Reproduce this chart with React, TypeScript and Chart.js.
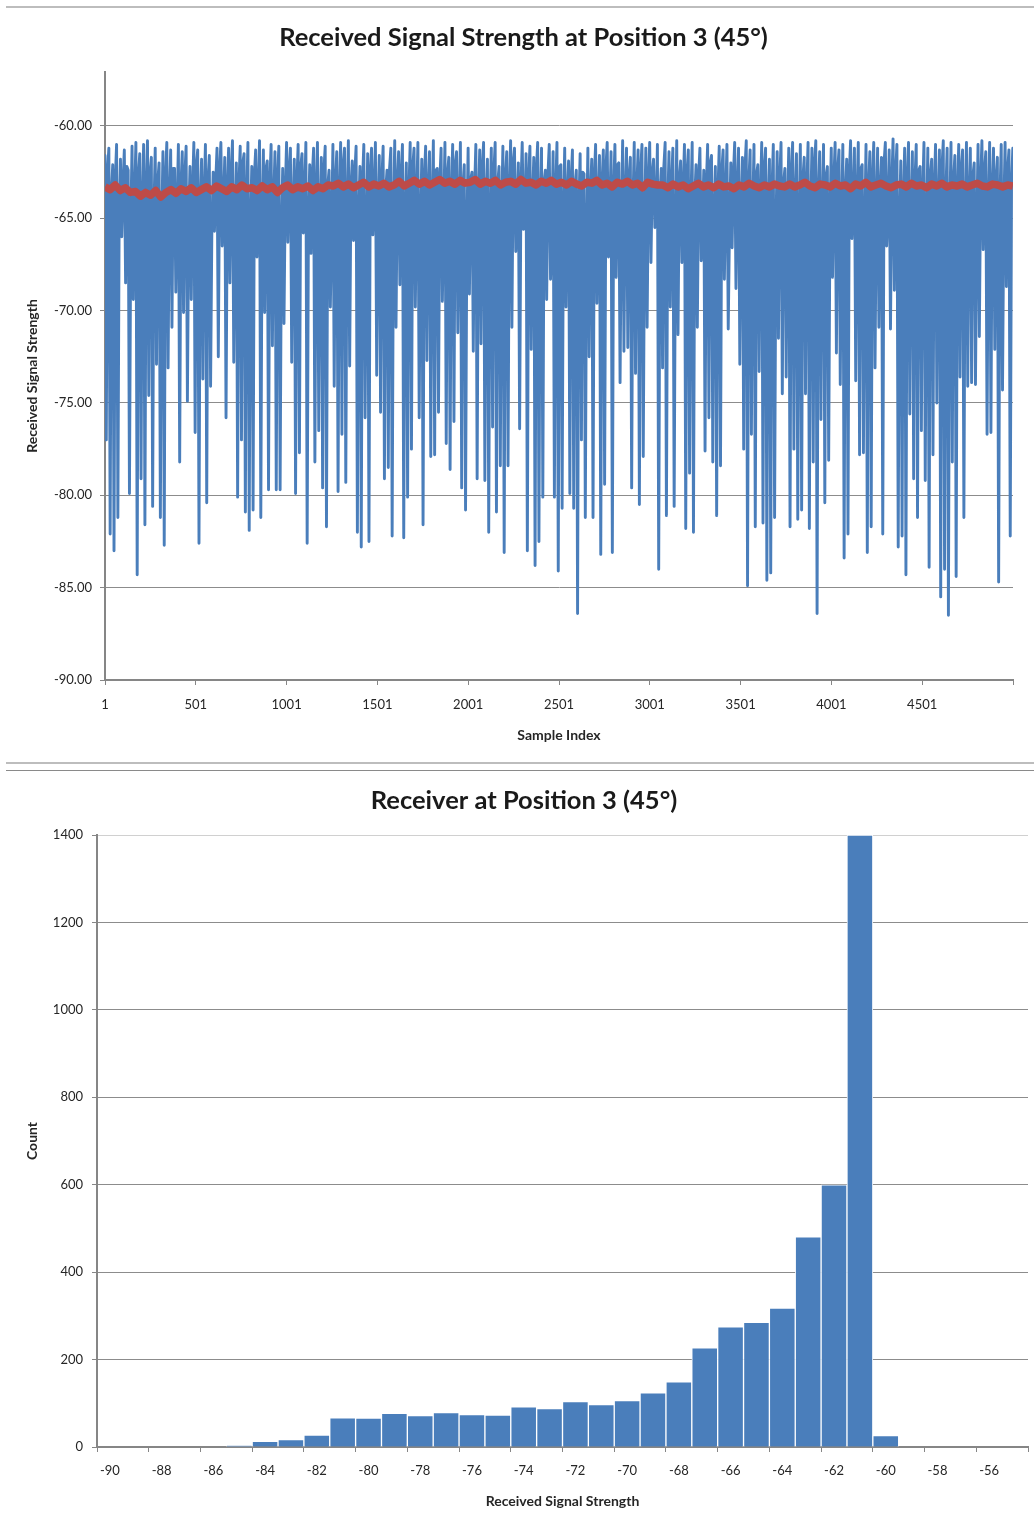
import React, { useEffect, useRef } from 'react';
import { Chart, registerables } from 'chart.js';

Chart.register(...registerables);

// ---------- Top chart: received signal strength over samples ----------
const FIRST_SAMPLE = 1;
const LAST_SAMPLE = 5000;
const sampleAxisTicks = [1, 501, 1001, 1501, 2001, 2501, 3001, 3501, 4001, 4501, 5001];
const rssAxisTicks = [-90, -85, -80, -75, -70, -65, -60];

// local maxima of the raw RSS trace (left to right)
const rssPeaks = [
  -61.6, -61.2, -62.1, -61.0, -61.8, -61.3, -62.4, -61.1, -60.9, -61.5,
  -61.0, -60.8, -61.7, -61.2, -62.0, -61.4, -60.9, -61.3, -62.3, -61.0,
  -61.4, -61.1, -62.2, -60.9, -61.3, -61.8, -61.0, -61.6, -62.5, -61.2,
  -60.9, -61.7, -61.2, -60.8, -62.0, -61.1, -61.5, -60.9, -62.2, -61.3,
  -60.8, -61.3, -61.9, -61.0, -61.4, -61.1, -62.3, -60.9, -61.2, -61.8,
  -61.0, -61.5, -60.9, -62.1, -61.2, -60.9, -61.7, -61.1, -62.4, -61.0,
  -61.4, -60.9, -61.2, -60.8, -61.9, -61.1, -62.2, -61.0, -61.5, -61.2,
  -60.9, -61.6, -61.1, -62.4, -61.2, -60.8, -61.4, -61.0, -62.0, -60.9,
  -61.2, -60.9, -61.8, -61.1, -61.4, -60.8, -62.3, -61.2, -60.9, -61.7,
  -61.0, -61.4, -60.9, -62.1, -61.2, -62.5, -61.0, -61.3, -60.9, -61.8,
  -61.2, -60.9, -62.2, -61.1, -61.4, -60.8, -61.2, -62.0, -60.9, -61.5,
  -61.1, -61.7, -60.9, -61.2, -62.4, -61.0, -61.4, -60.9, -62.1, -61.2,
  -61.9, -61.3, -62.4, -61.5, -62.6, -61.2, -61.8, -61.0, -61.6, -61.3,
  -60.9, -61.4, -61.0, -62.0, -60.8, -61.2, -61.7, -60.9, -61.3, -61.0,
  -61.2, -60.9, -61.8, -61.0, -62.3, -60.9, -61.4, -61.2, -60.8, -61.9,
  -61.0, -61.3, -60.9, -62.1, -61.2, -62.4, -61.0, -61.6, -62.2, -61.1,
  -61.3, -61.0, -62.0, -60.9, -61.2, -61.7, -60.8, -61.3, -61.0, -62.1,
  -60.9, -61.2, -61.8, -61.0, -61.4, -60.9, -62.3, -61.2, -60.9, -61.5,
  -61.0, -61.7, -60.9, -61.2, -60.8, -61.4, -61.0, -62.2, -61.2, -60.9,
  -61.3, -61.0, -61.8, -60.8, -61.2, -60.9, -62.1, -61.0, -61.4, -60.9,
  -61.2, -61.7, -60.9, -61.3, -60.7, -61.0, -61.9, -61.2, -60.9, -61.4,
  -61.0, -62.2, -60.9, -61.2, -61.8, -61.0, -61.3, -60.8, -61.2, -60.9,
  -61.6, -61.0, -61.3, -60.9, -61.2, -62.0, -61.0, -60.8, -61.4, -60.9,
  -61.2, -61.7, -61.0, -60.9, -61.3, -61.2,
];

// local minima (fades) of the raw RSS trace, left to right
const rssTroughs = [
  // samples 1 - 1240
  -77.0, -82.1, -83.0, -81.2, -66.0, -68.5, -79.9, -69.4, -84.3, -79.1,
  -81.6, -74.6, -80.6, -72.9, -81.2, -82.7, -73.1, -70.9, -69.0, -78.2,
  -70.1, -74.9, -69.4, -76.6, -82.6, -73.7, -80.4, -74.1, -65.7, -72.5,
  -66.5, -75.8, -68.5, -72.8, -80.1, -77.0, -80.9, -81.9, -80.8, -67.1,
  -81.2, -70.1, -79.7, -71.9, -79.7, -79.7, -70.7, -66.3, -72.8, -79.9,
  -77.7, -65.8, -82.6, -66.9, -78.2, -76.5, -79.6,
  // samples 1240 - 2440
  -81.7, -69.8, -74.1, -79.8, -76.7, -79.3, -73.0, -66.2, -82.0, -82.8,
  -75.8, -82.5, -65.9, -73.5, -75.5, -79.1, -78.5, -82.2, -70.9, -68.6,
  -82.3, -80.1, -77.5, -69.8, -75.8, -81.6, -72.7, -77.9, -77.8, -75.5,
  -69.5, -77.2, -78.6, -76.0, -71.2, -79.6, -80.8, -69.1, -72.2, -79.1,
  -71.8, -79.2, -82.0, -76.3, -80.9, -78.4, -83.1, -78.4, -70.9, -66.8,
  -76.4, -65.6, -83.0, -72.1, -83.8, -82.5, -80.1, -69.4, -68.3,
  // samples 2440 - 3650
  -80.1, -84.1, -80.7, -69.8, -79.9, -80.7, -86.4, -77.0, -81.2, -72.5,
  -81.2, -69.6, -83.2, -79.4, -67.1, -83.1, -68.2, -73.9, -72.2, -72.0,
  -79.6, -73.4, -80.5, -77.9, -70.9, -67.4, -65.5, -84.0, -73.1, -81.1,
  -69.8, -80.6, -71.3, -67.4, -81.8, -78.8, -82.0, -70.9, -67.3, -77.6,
  -75.8, -78.2, -81.1, -78.4, -68.3, -71.0, -66.6, -68.8, -72.9, -77.5,
  -84.9, -76.7, -81.7, -73.3, -81.5, -84.6, -84.2, -81.2,
  // samples 3650 - 5000
  -71.5, -74.5, -73.6, -81.7, -77.5, -81.3, -80.8, -74.5, -81.8, -78.2,
  -86.4, -75.9, -80.4, -78.1, -68.2, -72.3, -74.0, -83.4, -82.1, -66.1,
  -73.8, -77.8, -77.7, -83.1, -81.7, -73.1, -70.9, -82.1, -66.5, -71.0,
  -68.9, -82.8, -82.2, -84.3, -75.6, -79.1, -81.2, -76.5, -79.2, -83.9,
  -77.8, -75.0, -85.5, -84.0, -86.5, -78.2, -84.4, -73.6, -81.2, -74.1,
  -73.9, -74.0, -71.4, -66.7, -76.7, -76.6, -72.1, -84.7, -74.3, -68.7,
  -82.2,
];

// recovery level right after each fade, before the next peak
const rssShoulders = [
  -62.4, -63.6, -62.9, -64.8, -63.1, -62.2, -65.3, -63.8, -62.6, -64.1,
  -63.3, -62.5, -64.6, -63.0, -65.7, -62.8, -63.9, -62.3, -64.4, -63.2,
  -62.7, -65.1, -63.5, -62.1, -64.0, -63.7, -62.9, -65.5, -63.0, -62.4,
  -64.3, -63.4, -62.6, -64.9, -63.2, -62.0, -63.8, -65.2, -62.7, -63.5,
  -64.7, -62.3, -63.1, -64.0, -62.8, -65.8, -63.6, -62.5, -64.2, -63.0,
  -62.2, -63.9, -65.0, -62.7, -63.4, -64.5, -62.4, -63.2, -65.4, -62.9,
  -63.7, -62.1, -64.1, -63.3, -62.6, -64.8, -63.0, -65.6, -62.5, -63.8,
  -64.4, -62.9, -63.5, -62.3, -65.1, -63.1, -62.7, -64.6, -63.6, -62.2,
  -63.9, -65.3, -62.8, -63.4, -64.2, -62.4, -63.0, -64.9, -62.6, -63.7,
  -62.1, -64.3, -63.2, -65.7, -62.9, -63.5, -64.0, -62.3, -63.8, -65.0,
  -62.5, -63.1, -64.7, -62.7, -63.6, -62.0, -64.5, -63.3, -65.2, -62.8,
  -63.9, -62.4, -64.1, -63.0, -62.6, -65.5, -63.4, -62.2, -64.8, -63.7,
  -62.9, -63.2, -64.4, -62.5, -65.9, -63.6, -62.8, -64.0, -63.1, -62.3,
  -64.6, -63.5, -62.1, -65.0, -63.8, -62.7, -64.2, -63.3, -62.4, -65.4,
  -63.0, -62.6, -64.9, -63.7, -62.2, -64.3, -63.1, -65.6, -62.9, -63.4,
  -62.5, -64.1, -63.9, -62.8, -65.1, -63.2, -62.0, -64.7, -63.6, -62.4,
  -63.8, -65.3, -62.7, -63.5, -64.4, -62.3, -63.0, -64.8, -62.6, -63.9,
  -62.2, -64.0, -63.4, -65.8, -62.9, -63.1, -64.5, -62.5, -63.7, -65.2,
  -62.8, -63.3, -64.6, -62.1, -63.6, -64.2, -62.7, -65.0, -63.0, -62.4,
  -64.9, -63.5, -62.6, -64.3, -63.8, -62.3, -65.5, -63.2, -62.9, -64.1,
  -63.4, -62.0, -64.7, -63.1, -62.5, -65.1, -63.9, -62.8, -64.4, -63.0,
  -62.4, -63.7, -65.4, -62.6, -63.3, -64.0, -62.2, -63.6, -64.8, -62.9,
  -63.5, -62.3, -64.5, -63.8, -62.7, -65.3, -63.1, -62.5, -64.2, -63.4,
  -62.8, -63.9, -64.6, -62.4, -63.2,
];

// running average (red trace), evenly spread over the samples
const runningAverage = [
  -63.3, -63.45, -63.2, -63.5, -63.35, -63.6,
  -63.55, -63.8, -63.6, -63.75, -63.5, -63.85, -63.6,
  -63.45, -63.65, -63.4, -63.55, -63.35, -63.6, -63.45,
  -63.3, -63.5, -63.25, -63.4, -63.55, -63.3, -63.45, -63.2, -63.4, -63.35,
  -63.5, -63.25, -63.45, -63.3, -63.6, -63.35, -63.2, -63.45, -63.3, -63.4,
  -63.25, -63.5, -63.3, -63.4, -63.2,
  -63.25, -63.1, -63.3, -63.15, -63.35, -63.2, -63.05, -63.3, -63.15, -63.25,
  -63.1, -63.3, -63.2, -63.0, -63.25,
  -63.1, -62.95, -63.15, -63.0, -63.2, -63.05, -62.9, -63.1, -63.0, -63.15,
  -62.95, -63.1, -63.05, -62.9, -63.15, -63.0, -63.1, -62.95, -63.2, -63.05,
  -63.0, -63.15, -62.9, -63.1, -63.05, -63.2, -63.0, -63.1, -62.95, -63.15,
  -63.05, -63.2, -63.0, -63.15, -63.25, -63.05, -63.1, -62.95, -63.2, -63.1,
  -63.3, -63.05, -63.15, -63.0, -63.2, -63.1, -63.35, -63.05, -63.15, -63.2,
  -63.2, -63.35, -63.15, -63.3, -63.2, -63.4, -63.25, -63.1, -63.3, -63.2,
  -63.35, -63.15, -63.3, -63.25, -63.4, -63.2, -63.3, -63.1, -63.25, -63.35,
  -63.2, -63.3, -63.15, -63.25, -63.3,
  -63.15, -63.3, -63.2, -63.05, -63.25, -63.35, -63.15, -63.2, -63.3, -63.1,
  -63.25, -63.2, -63.4, -63.15, -63.25, -63.05, -63.3, -63.2, -63.1, -63.25,
  -63.35, -63.2, -63.15, -63.3, -63.1, -63.25, -63.2, -63.35, -63.15, -63.25,
  -63.1, -63.3, -63.2, -63.25, -63.15, -63.3, -63.2, -63.1, -63.25, -63.3,
  -63.15, -63.2, -63.3, -63.2, -63.25,
];

// ---------- Bottom chart: histogram ----------
const rssBins = [
  -90, -89, -88, -87, -86, -85, -84, -83, -82, -81, -80, -79, -78, -77, -76, -75, -74, -73,
  -72, -71, -70, -69, -68, -67, -66, -65, -64, -63, -62, -61, -60, -59, -58, -57, -56, -55,
];
const binCounts = [
  0, 0, 0, 0, 0, 3, 13, 17, 27, 67, 66, 77, 72, 79, 74, 73, 92, 88,
  104, 97, 106, 124, 149, 227, 275, 285, 318, 481, 600, 1400, 26, 0, 0, 0, 0, 0,
];
const countAxisTicks = [0, 200, 400, 600, 800, 1000, 1200, 1400];

const BLUE = '#4a7ebb';
const RED = '#be4b48';
const GRID = '#8c8c8c';
const AXIS = '#868686';
const TEXT = '#262626';
const FONT = "Lato, 'Open Sans', sans-serif";

function spread(values: number[]) {
  const n = values.length;
  return values.map((y, j) => ({
    x: FIRST_SAMPLE + (j * (LAST_SAMPLE - FIRST_SAMPLE)) / (n - 1),
    y,
  }));
}

export default function App() {
  const topRef = useRef<HTMLCanvasElement | null>(null);
  const botRef = useRef<HTMLCanvasElement | null>(null);

  useEffect(() => {
    Chart.defaults.font.family = FONT;
    Chart.defaults.color = TEXT;

    const rawTrace: number[] = [];
    rssTroughs.forEach((t, k) => {
      rawTrace.push(rssPeaks[k]);
      rawTrace.push(t);
      rawTrace.push(rssShoulders[k]);
    });
    rawTrace.push(rssPeaks[rssTroughs.length]);

    const top = new Chart(topRef.current as HTMLCanvasElement, {
      type: 'line',
      data: {
        datasets: [
          {
            label: 'Average',
            data: spread(runningAverage),
            borderColor: RED,
            borderWidth: 7.5,
            pointRadius: 0,
            tension: 0,
            borderJoinStyle: 'round',
            order: 0,
          },
          {
            label: 'RSS',
            data: spread(rawTrace),
            borderColor: BLUE,
            borderWidth: 2.9,
            pointRadius: 0,
            tension: 0,
            borderJoinStyle: 'round',
            borderCapStyle: 'round',
            order: 1,
          },
        ],
      },
      options: {
        animation: false,
        responsive: false,
        events: [],
        layout: { padding: { left: 34, right: 21, top: 0, bottom: 0 } },
        plugins: {
          legend: { display: false },
          tooltip: { enabled: false },
          title: {
            display: true,
            text: 'Received Signal Strength at Position 3 (45°)',
            color: '#1a1a1a',
            font: { family: FONT, size: 25.5, weight: 'bold' },
            padding: { top: 14.2, bottom: 19.2 },
          },
        },
        scales: {
          x: {
            type: 'linear',
            min: FIRST_SAMPLE,
            max: 5001,
            afterBuildTicks: (s: any) => {
              s.ticks = sampleAxisTicks.map((v) => ({ value: v }));
            },
            afterFit: (s: any) => {
              s.height = 82;
            },
            ticks: {
              autoSkip: false,
              maxRotation: 0,
              padding: 12,
              font: { size: 13 },
              color: TEXT,
              callback: (v: any) => (v === 5001 ? '' : String(v)),
            },
            grid: {
              drawOnChartArea: false,
              drawTicks: true,
              tickLength: 5,
              tickColor: AXIS,
            },
            border: { display: true, color: AXIS, width: 2 },
            title: {
              display: true,
              text: 'Sample Index',
              color: TEXT,
              font: { size: 14, weight: 'bold' },
              padding: { top: 0, bottom: 18.6 },
            },
          },
          y: {
            type: 'linear',
            min: -90,
            max: -57.08,
            afterBuildTicks: (s: any) => {
              s.ticks = rssAxisTicks.map((v) => ({ value: v }));
            },
            afterFit: (s: any) => {
              s.width = 71;
            },
            ticks: {
              padding: 8,
              font: { size: 13 },
              color: TEXT,
              callback: (v: any) => Number(v).toFixed(2),
            },
            grid: {
              color: GRID,
              lineWidth: 1,
              drawTicks: true,
              tickLength: 5,
              tickColor: AXIS,
            },
            border: { display: true, color: AXIS, width: 2 },
            title: {
              display: true,
              text: 'Received Signal Strength',
              color: TEXT,
              font: { size: 14, weight: 'bold' },
              padding: { top: -10.4, bottom: 0 },
            },
          },
        },
      },
    } as any);

    const bot = new Chart(botRef.current as HTMLCanvasElement, {
      type: 'bar',
      data: {
        labels: rssBins.map(String),
        datasets: [
          {
            label: 'Count',
            data: binCounts,
            backgroundColor: BLUE,
            borderColor: 'rgba(255,255,255,0.9)',
            borderWidth: 1,
            borderSkipped: 'bottom',
            barPercentage: 1,
            categoryPercentage: 1,
          },
        ],
      },
      options: {
        animation: false,
        responsive: false,
        events: [],
        layout: { padding: { left: 20, right: 6, top: 0, bottom: 0 } },
        plugins: {
          legend: { display: false },
          tooltip: { enabled: false },
          title: {
            display: true,
            text: 'Receiver at Position 3 (45°)',
            color: '#1a1a1a',
            font: { family: FONT, size: 25.5, weight: 'bold' },
            padding: { top: 13.2, bottom: 19.2 },
          },
        },
        scales: {
          x: {
            type: 'category',
            offset: true,
            afterFit: (s: any) => {
              s.height = 79;
            },
            ticks: {
              autoSkip: false,
              maxRotation: 0,
              padding: 11,
              font: { size: 13 },
              color: TEXT,
              callback: (_v: any, i: number) => (i % 2 === 0 ? String(rssBins[i]) : ''),
            },
            grid: {
              offset: true,
              drawOnChartArea: false,
              drawTicks: true,
              tickLength: 5,
              tickColor: (c: any) =>
                c.index === undefined || c.index % 2 === 0 ? AXIS : 'rgba(0,0,0,0)',
            },
            border: { display: true, color: AXIS, width: 2 },
            title: {
              display: true,
              text: 'Received Signal Strength',
              color: TEXT,
              font: { size: 14, weight: 'bold' },
              padding: { top: 0, bottom: 16.6 },
            },
          },
          y: {
            type: 'linear',
            min: 0,
            max: 1400,
            afterBuildTicks: (s: any) => {
              s.ticks = countAxisTicks.map((v) => ({ value: v }));
            },
            afterFit: (s: any) => {
              s.width = 77;
            },
            ticks: {
              padding: 9,
              font: { size: 13 },
              color: TEXT,
              callback: (v: any) => String(v),
            },
            grid: {
              color: (c: any) => (c.tick && c.tick.value === 1400 ? '#d0d0d0' : GRID),
              lineWidth: 1,
              drawTicks: true,
              tickLength: 5,
              tickColor: AXIS,
            },
            border: { display: true, color: AXIS, width: 2 },
            title: {
              display: true,
              text: 'Count',
              color: TEXT,
              font: { size: 14, weight: 'bold' },
              padding: { top: 3.6, bottom: 0 },
            },
          },
        },
      },
    } as any);

    return () => {
      top.destroy();
      bot.destroy();
    };
  }, []);

  return (
    <div
      style={{
        position: 'absolute',
        left: 0,
        top: 0,
        width: 1034,
        height: 1526,
        background: '#ffffff',
        overflow: 'hidden',
      }}
    >
      <div style={{ position: 'absolute', left: 6, right: 0, top: 6, height: 2, background: '#bdbdbd' }} />
      <canvas
        ref={topRef}
        width={1034}
        height={754}
        style={{ position: 'absolute', left: 0, top: 8, width: 1034, height: 754 }}
      />
      <div style={{ position: 'absolute', left: 6, right: 0, top: 762, height: 2, background: '#bdbdbd' }} />
      <div style={{ position: 'absolute', left: 6, right: 0, top: 770, height: 1, background: '#8a8a8a' }} />
      <canvas
        ref={botRef}
        width={1034}
        height={754}
        style={{ position: 'absolute', left: 0, top: 772, width: 1034, height: 754 }}
      />
    </div>
  );
}
